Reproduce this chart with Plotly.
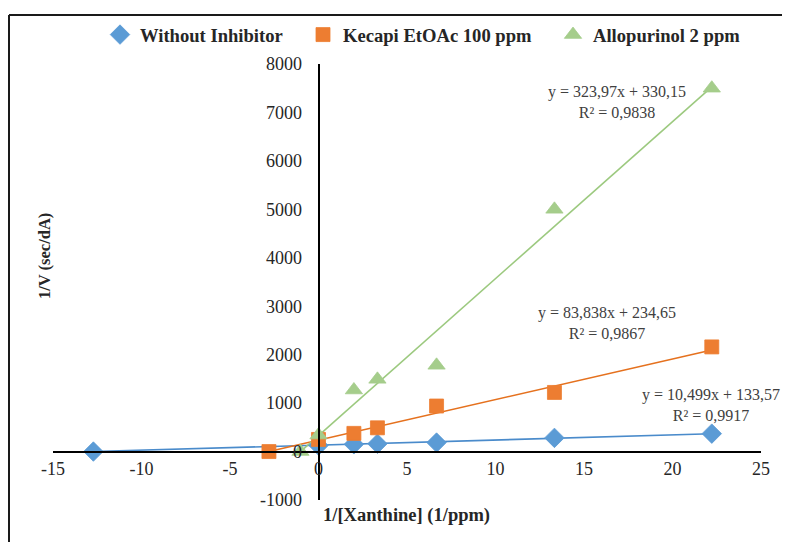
import numpy as np
import plotly.graph_objects as go

# ---- data ----
series_names = ["Without Inhibitor", "Kecapi EtOAc 100 ppm", "Allopurinol 2 ppm"]
blue_x = [-12.72, 0, 2, 3.33, 6.67, 13.33, 22.22]
blue_y = [0, 125, 150, 160, 185, 282, 370]
orange_x = [-2.80, 0, 2, 3.33, 6.67, 13.33, 22.22]
orange_y = [0, 250, 375, 490, 940, 1220, 2160]
green_x = [-1.02, 0, 2, 3.33, 6.67, 13.33, 22.22]
green_y = [0, 340, 1270, 1490, 1780, 5000, 7500]

slopes = [10.499, 83.838, 323.97]
intercepts = [133.57, 234.65, 330.15]
eq_texts = ["y = 10,499x + 133,57<br>R² = 0,9917",
            "y = 83,838x + 234,65<br>R² = 0,9867",
            "y = 323,97x + 330,15<br>R² = 0,9838"]
eq_pos = [(22.2, 970), (16.3, 2660), (16.86, 7216)]

x_ticks = [-15, -10, -5, 0, 5, 10, 15, 20, 25]
y_ticks = [-1000, 0, 1000, 2000, 3000, 4000, 5000, 6000, 7000, 8000]

marker_colors = ["#5B9BD5", "#ED7D31", "#A5CD8B"]
line_colors = ["#4A8BCB", "#E5711E", "#9CC97F"]
symbols = ["diamond", "square", "triangle-up"]
marker_sizes = [15, 14, 15]
xs = [blue_x, orange_x, green_x]
ys = [blue_y, orange_y, green_y]

serif = "Liberation Serif, Times New Roman, serif"
# the page body has an 8px margin, so the figure is drawn 8px right/down
OFF = 8
W, H = 790 - OFF, 542 - OFF

fig = go.Figure()

# trendlines
for i in range(3):
    tx = np.array([min(xs[i]), max(xs[i])])
    ty = slopes[i] * tx + intercepts[i]
    fig.add_trace(go.Scatter(x=tx, y=ty, mode="lines",
                             line=dict(color=line_colors[i], width=1.6),
                             showlegend=False, hoverinfo="skip"))

legend_names = ["legend", "legend2", "legend3"]
for i in range(3):
    fig.add_trace(go.Scatter(x=xs[i], y=ys[i], mode="markers", name=series_names[i],
                             marker=dict(symbol=symbols[i], size=marker_sizes[i],
                                         color=marker_colors[i],
                                         line=dict(width=0.8, color=marker_colors[i])),
                             legend=legend_names[i]))

# screen-pixel helpers (plot area on screen: x 53..761, y 64..500)
def px_x(p):
    return (p - 53) / 708.0

def px_y(p):
    return (500 - p) / 436.0

legend_font = dict(family=serif, size=18.6, color="#262626", weight="bold")
leg_lefts = [100, 303, 553]
layout_legends = {}
for name, left in zip(legend_names, leg_lefts):
    layout_legends[name] = dict(x=(left - OFF) / W, y=1 - (35 - OFF) / H,
                                xref="container", yref="container",
                                xanchor="left", yanchor="middle",
                                orientation="h", font=legend_font, bgcolor="rgba(0,0,0,0)",
                                borderwidth=0)

fig.update_layout(
    width=W, height=H,
    margin=dict(l=53 - OFF, r=W - (761 - OFF), t=64 - OFF, b=H - (500 - OFF), autoexpand=False),
    paper_bgcolor="white", plot_bgcolor="white",
    **layout_legends,
    xaxis=dict(range=[-15, 25], tickvals=x_ticks, ticktext=[str(v) for v in x_ticks],
               showgrid=False, zeroline=False, showline=True, linecolor="black", linewidth=2,
               anchor="free", position=1000 / 9000, ticks="", ticklabelstandoff=1,
               automargin=False,
               tickfont=dict(family=serif, size=18, color="#262626")),
    yaxis=dict(range=[-1000, 8000], tickvals=y_ticks, ticktext=[str(v) for v in y_ticks],
               showgrid=False, zeroline=False, showline=True, linecolor="black", linewidth=2,
               anchor="free", position=15 / 40, ticks="", ticklabelstandoff=12,
               automargin=False,
               tickfont=dict(family=serif, size=18, color="#262626")),
)

for txt, (ex, ey) in zip(eq_texts, eq_pos):
    fig.add_annotation(x=ex, y=ey, xref="x", yref="y", text=txt, showarrow=False,
                       xanchor="center", yanchor="middle", align="center",
                       font=dict(family=serif, size=16, color="#404040"))

fig.add_annotation(x=px_x(406), y=px_y(515), xref="paper", yref="paper",
                   text="<b>1/[Xanthine] (1/ppm)</b>", showarrow=False,
                   xanchor="center", yanchor="middle",
                   font=dict(family=serif, size=18.5, color="#262626"))
fig.add_annotation(x=px_x(44), y=px_y(256), xref="paper", yref="paper",
                   text="<b>1/V (sec/dA)</b>", showarrow=False, textangle=-90,
                   xanchor="center", yanchor="middle",
                   font=dict(family=serif, size=16.5, color="#262626"))

# chart-area frame (top and left edges visible)
fig.add_shape(type="line", xref="paper", yref="paper",
              x0=px_x(9), y0=px_y(15), x1=px_x(800), y1=px_y(15),
              line=dict(color="#1a1a1a", width=2))
fig.add_shape(type="line", xref="paper", yref="paper",
              x0=px_x(9), y0=px_y(15), x1=px_x(9), y1=px_y(550),
              line=dict(color="#1a1a1a", width=2))

fig.write_html("out.html")
